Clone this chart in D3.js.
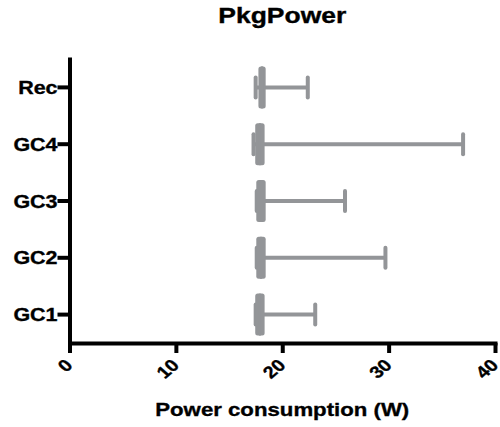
<!DOCTYPE html>
<html>
<head>
<meta charset="utf-8">
<script src="https://cdn.jsdelivr.net/npm/d3@7"></script>
<style>
  body { margin: 0; background: #fff; }
  text { font-family: Arial, "Liberation Sans", sans-serif; font-weight: bold; stroke: #000; stroke-width: 0.35px; }
</style>
</head>
<body>
<svg id="chart"></svg>
<script>
// Box-and-whisker summary per run
const categories = ['Rec', 'GC4', 'GC3', 'GC2', 'GC1'];
const minValues = [17.5, 17.3, 17.6, 17.6, 17.5];
const q1Values = [17.9, 17.6, 17.7, 17.7, 17.6];
const medianValues = [18.1, 17.9, 18.0, 18.0, 17.9];
const q3Values = [18.3, 18.2, 18.3, 18.3, 18.2];
const maxValues = [22.4, 37.0, 25.9, 29.7, 23.1];
const xTicks = [0, 10, 20, 30, 40];

const width = 500;
const height = 427;
const margin = { top: 59, right: 5, bottom: 84, left: 69.5 };
const innerWidth = width - margin.left - margin.right;
const innerHeight = height - margin.top - margin.bottom;
const GRAY = '#939598';
const STRETCH = 1.16; // glyphs in the picture are a bit wide

const svg = d3.select('#chart')
    .attr('width', width)
    .attr('height', height);

const g = svg.append('g')
    .attr('transform', `translate(${ margin.left },${ margin.top })`);

const x = d3.scaleLinear().domain([0, 40]).range([0, innerWidth]);
const y = d3.scaleBand().domain(categories).range([0, innerHeight]);

const rows = categories.map((c, i) => ({
    cat: c,
    min: minValues[i],
    q1: q1Values[i],
    med: medianValues[i],
    q3: q3Values[i],
    max: maxValues[i]
}));

const row = g.selectAll('.row')
    .data(rows)
    .enter().append('g')
    .attr('transform', (d) => `translate(0,${ y(d.cat) + y.bandwidth() / 2 })`);

// whisker line
row.append('line')
    .attr('x1', (d) => x(d.min))
    .attr('x2', (d) => x(d.max))
    .attr('stroke', GRAY)
    .attr('stroke-width', 4);

// caps
['min', 'max'].forEach((k) => {
    row.append('line')
        .attr('x1', (d) => x(d[k]))
        .attr('x2', (d) => x(d[k]))
        .attr('y1', -10)
        .attr('y2', 10)
        .attr('stroke', GRAY)
        .attr('stroke-width', 4)
        .attr('stroke-linecap', 'round');
});

// box
row.append('rect')
    .attr('x', (d) => x(d.q1) - 1.5)
    .attr('width', (d) => x(d.q3) - x(d.q1) + 3)
    .attr('y', -21)
    .attr('height', 42)
    .attr('rx', 2.5)
    .attr('fill', GRAY);

row.append('line')
    .attr('x1', (d) => x(d.med))
    .attr('x2', (d) => x(d.med))
    .attr('y1', -21)
    .attr('y2', 21)
    .attr('stroke', GRAY)
    .attr('stroke-width', 2);

// axes
const xAxis = g.append('g')
    .attr('transform', `translate(0,${ innerHeight })`)
    .call(d3.axisBottom(x).tickValues(xTicks).tickSize(10).tickSizeOuter(0));

xAxis.selectAll('text')
    .attr('font-size', 17)
    .attr('fill', '#000')
    .attr('text-anchor', 'end')
    .attr('x', 0)
    .attr('y', 0)
    .attr('dy', '0.35em')
    .attr('transform', `translate(-1,19) scale(${ STRETCH },1) rotate(-45)`);

const yAxis = g.append('g')
    .call(d3.axisLeft(y).tickSize(12).tickSizeOuter(0));

yAxis.selectAll('text')
    .attr('font-size', 18.5)
    .attr('fill', '#000')
    .attr('x', 0)
    .attr('dy', '0.36em')
    .attr('transform', `translate(-12,0) scale(${ STRETCH },1)`);

g.selectAll('.domain, .tick line')
    .attr('stroke', '#000')
    .attr('stroke-width', 4);

g.selectAll('.domain').attr('stroke-linecap', 'square');

// titles
svg.append('text')
    .attr('x', margin.left + innerWidth / 2)
    .attr('y', 23)
    .attr('text-anchor', 'middle')
    .attr('font-size', 22)
    .attr('textLength', 128)
    .attr('lengthAdjust', 'spacingAndGlyphs')
    .text('PkgPower');

svg.append('text')
    .attr('x', margin.left + innerWidth / 2)
    .attr('y', 416)
    .attr('text-anchor', 'middle')
    .attr('font-size', 19)
    .attr('textLength', 254)
    .attr('lengthAdjust', 'spacingAndGlyphs')
    .text('Power consumption (W)');
</script>
</body>
</html>
